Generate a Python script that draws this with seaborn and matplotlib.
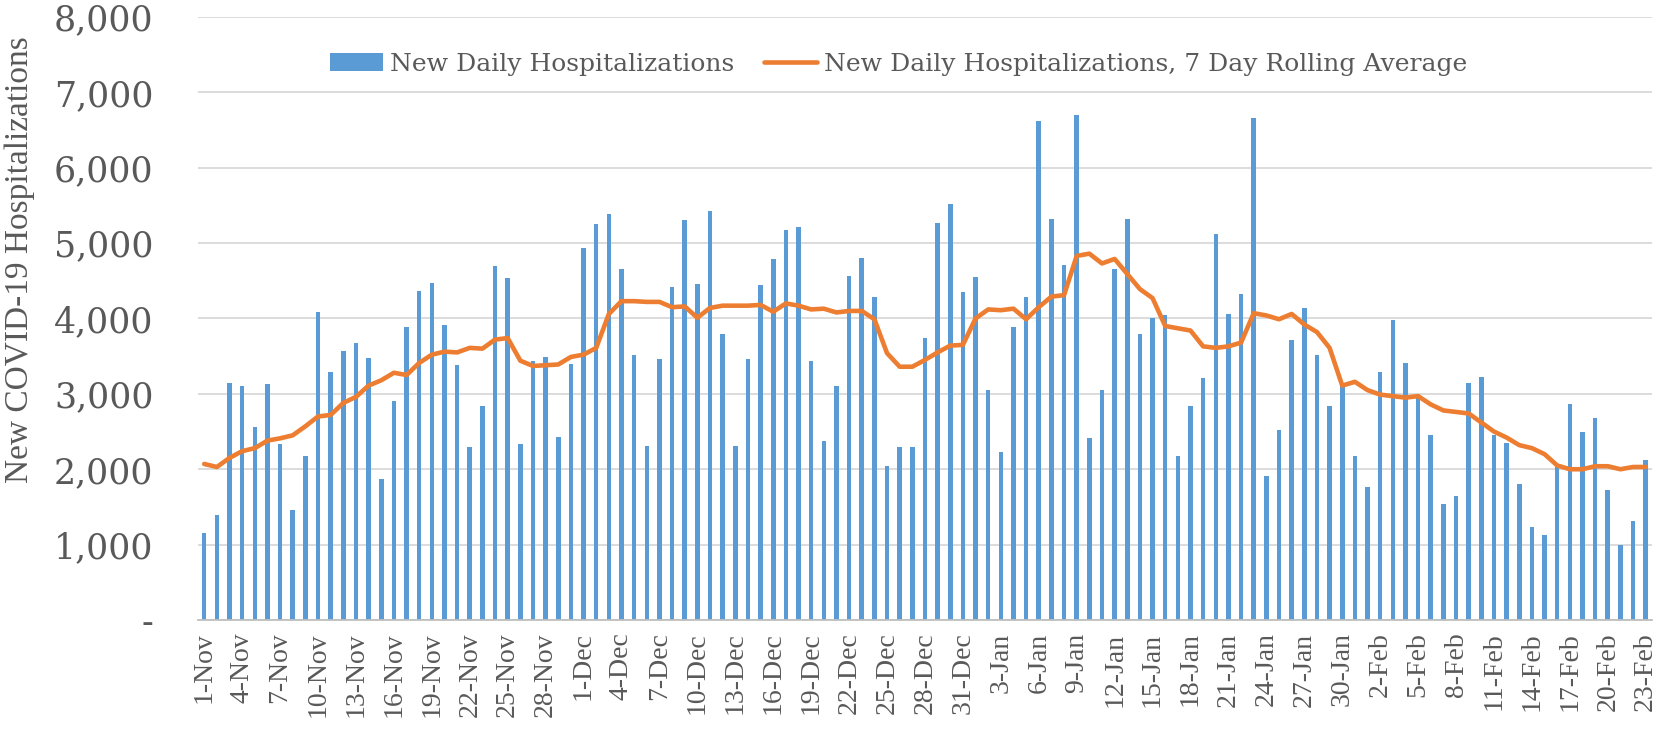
import matplotlib
matplotlib.use("Agg")
import matplotlib.pyplot as plt
import numpy as np
import pandas as pd
import seaborn as sns
from matplotlib.lines import Line2D
from matplotlib.patches import Patch
from matplotlib.ticker import FuncFormatter

# daily values, 1-Nov to 23-Feb
dates = pd.date_range("2020-11-01", "2021-02-23", freq="D")
date_labels = [f"{d.day}-{d.strftime('%b')}" for d in dates]

new_daily = [
    1160, 1390, 3140, 3110, 2560, 3130, 2340, 1460, 2180, 4080,
    3290, 3570, 3680, 3480, 1870, 2910, 3890, 4360, 4470, 3910,
    3380, 2290, 2840, 4690, 4540, 2340, 3430, 3490, 2430, 3400,
    4930, 5250, 5380, 4660, 3520, 2310, 3460, 4420, 5310, 4460,
    5420, 3790, 2310, 3460, 4440, 4790, 5180, 5220, 3430, 2380,
    3110, 4570, 4800, 4290, 2040, 2290, 2300, 3740, 5270, 5520,
    4350, 4550, 3050, 2230, 3890, 4290, 6620, 5320, 4710, 6700,
    2410, 3050, 4660, 5320, 3790, 4000, 4050, 2170, 2840, 3210,
    5120, 4060, 4330, 6660, 1910, 2520, 3710, 4140, 3510, 2840,
    3130, 2170, 1770, 3290, 3980, 3410, 2940, 2450, 1540, 1640,
    3150, 3230, 2460, 2350, 1810, 1230, 1130, 2030, 2860, 2500,
    2680, 1730, 990, 1310, 2120,
]

rolling_avg = [
    2070, 2030, 2150, 2240, 2280, 2380, 2410, 2450, 2570, 2700,
    2720, 2880, 2960, 3110, 3180, 3280, 3250, 3410, 3520, 3560,
    3550, 3610, 3600, 3720, 3740, 3440, 3370, 3380, 3390, 3490,
    3520, 3610, 4060, 4230, 4230, 4220, 4220, 4150, 4160, 4010,
    4140, 4170, 4170, 4170, 4180, 4090, 4200, 4170, 4120, 4130,
    4080, 4100, 4100, 3990, 3540, 3360, 3360, 3450, 3550, 3640,
    3650, 4000, 4120, 4110, 4130, 3990, 4150, 4290, 4310, 4830,
    4860, 4730, 4790, 4590, 4390, 4270, 3900, 3870, 3840, 3630,
    3610, 3630, 3680, 4070, 4040, 3990, 4060, 3920, 3820, 3610,
    3110, 3160, 3050, 2990, 2970, 2950, 2970, 2860, 2780, 2760,
    2740, 2620, 2500, 2420, 2320, 2280, 2200, 2050, 2000, 2000,
    2040, 2040, 2000, 2030, 2030,
]

BAR_COLOR = "#5B9BD5"
LINE_COLOR = "#ED7D31"
TEXT_COLOR = "#595959"
GRID_COLOR = "#D9D9D9"

df = pd.DataFrame({"date": date_labels, "new": new_daily, "avg": rolling_avg})
df["pos"] = np.arange(len(df))

sns.set_theme(style="white")
plt.rcParams["font.family"] = ["DejaVu Serif"]

fig = plt.figure(figsize=(16.63, 7.38), dpi=100)
ax = fig.add_axes([0.119, 0.1599, 0.8744, 0.8171])

sns.barplot(data=df, x="date", y="new", order=date_labels, color=BAR_COLOR,
            saturation=1, width=0.36, linewidth=0, ax=ax)
sns.lineplot(data=df, x="pos", y="avg", color=LINE_COLOR, linewidth=3.3,
             solid_capstyle="round", solid_joinstyle="round", ax=ax)

ax.set_xlim(-0.5, len(df) - 0.5)
ax.set_ylim(0, 8000)
ax.set_yticks(range(0, 8001, 1000))
ax.yaxis.set_major_formatter(FuncFormatter(lambda v, _: "-" if v == 0 else f"{int(v):,}"))
ax.tick_params(axis="y", length=0, pad=32, labelsize=25, labelcolor=TEXT_COLOR)
ax.grid(axis="y", color=GRID_COLOR, linewidth=1.3)
ax.set_axisbelow(True)

ticks = list(range(0, len(df), 3))
ax.set_xticks(ticks)
ax.set_xticklabels([date_labels[i] for i in ticks], rotation=90,
                   fontsize=20, color=TEXT_COLOR, family="Liberation Serif")
ax.set_xticks(np.arange(-0.5, len(df), 1), minor=True)
ax.tick_params(axis="x", which="major", length=0, pad=9)
ax.tick_params(axis="x", which="minor", length=9, width=1.3, color="#BFBFBF")
ax.set_xlabel("")

for side in ["top", "right", "left"]:
    ax.spines[side].set_visible(False)
ax.spines["bottom"].set_color("#BFBFBF")
ax.spines["bottom"].set_linewidth(1.3)

ax.set_ylabel("New COVID-19 Hospitalizations", fontsize=24, color=TEXT_COLOR,
              family="Liberation Serif")
ax.yaxis.set_label_coords(-0.112, 0.597)

handles = [
    Patch(facecolor=BAR_COLOR, edgecolor="none"),
    Line2D([], [], color=LINE_COLOR, linewidth=3.3, solid_capstyle="round"),
]
labels = ["New Daily Hospitalizations", "New Daily Hospitalizations, 7 Day Rolling Average"]
leg = ax.legend(handles, labels, loc="center", bbox_to_anchor=(0.482, 0.922), ncol=2,
                frameon=False, fontsize=18, handlelength=2.1, handleheight=0.7,
                handletextpad=0.3, columnspacing=1.2, labelcolor=TEXT_COLOR)

fig.savefig("out.png", dpi=100)
